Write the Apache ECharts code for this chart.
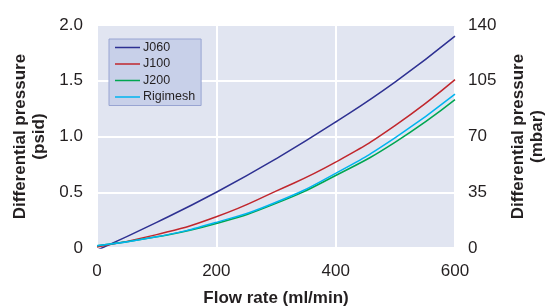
<!DOCTYPE html>
<html>
<head>
<meta charset="utf-8">
<script src="https://cdn.jsdelivr.net/npm/echarts@6/dist/echarts.min.js"></script>
<style>
html,body{margin:0;padding:0;background:#fff;}
#chart{width:548px;height:307px;}
</style>
</head>
<body>
<div id="chart"></div>
<script>
/*流量数据*/
var flowRates = [0, 100, 200, 300, 400, 500, 600];
var j060 = [-0.02, 0.23, 0.50, 0.80, 1.13, 1.49, 1.90];
var j100 = [0.01, 0.12, 0.28, 0.51, 0.77, 1.10, 1.51];
var j200 = [0.02, 0.10, 0.22, 0.40, 0.65, 0.95, 1.33];
var rigimesh = [0.02, 0.10, 0.23, 0.41, 0.67, 0.99, 1.38];
var psidTicks = [0, 0.5, 1.0, 1.5, 2.0];
var mbarTicks = [0, 35, 70, 105, 140];

function pairs(ys){
    var out = [];
    for(var i=0;i<flowRates.length;i++){
        out.push([flowRates[i], ys[i]]);
    }
    return out;
}

function line(name, ys, color){
    return {
        name: name,
        type: 'line',
        smooth: true,
        symbol: 'none',
        data: pairs(ys),
        lineStyle: {color: color, width: 1.5},
        itemStyle: {color: color}
    };
}

var font = 'Liberation Sans, Arial, sans-serif';
var tickText = {color: '#231f20', fontSize: 17, fontFamily: font};
var nameText = {color: '#231f20', fontSize: 17, fontWeight: 'bold', fontFamily: font, lineHeight: 19};

var myChart = echarts.init(document.getElementById('chart'));
myChart.setOption({
    animation: false,
    grid: {
        left: 97, right: 93, top: 25, bottom: 59,
        outerBoundsMode: 'none',
        containLabel: false,
        show: true,
        backgroundColor: '#e1e5f1',
        borderWidth: 0
    },
    legend: {
        left: 109, top: 39,
        orient: 'vertical',
        icon: 'rect',
        itemWidth: 25,
        itemHeight: 1.5,
        itemGap: 3.5,
        padding: [2, 6, 2, 6],
        backgroundColor: '#c8d0e9',
        borderColor: '#98a4d2',
        borderWidth: 1,
        textStyle: {color: '#231f20', fontSize: 12.5, fontFamily: font, padding: [0, 0, 0, -2], lineHeight: 13}
    },
    xAxis: {
        type: 'value',
        min: 0, max: 600, interval: 200,
        name: 'Flow rate (ml/min)',
        nameLocation: 'middle',
        nameGap: 41,
        nameTextStyle: nameText,
        axisLine: {show: false},
        axisTick: {show: false},
        axisLabel: Object.assign({margin: 15}, tickText),
        splitLine: {show: true, lineStyle: {color: '#ffffff', width: 2}}
    },
    yAxis: [{
        type: 'value',
        min: psidTicks[0], max: psidTicks[psidTicks.length-1], interval: 0.5,
        name: 'Differential pressure\n(psid)',
        nameLocation: 'middle',
        nameRotate: 90,
        nameGap: 45,
        nameTextStyle: nameText,
        axisLine: {show: false},
        axisTick: {show: false},
        axisLabel: Object.assign({
            margin: 14,
            formatter: function(v){ return v === 0 ? '0' : v.toFixed(1); }
        }, tickText),
        splitLine: {show: true, lineStyle: {color: '#ffffff', width: 2}}
    }, {
        type: 'value',
        position: 'right',
        min: mbarTicks[0], max: mbarTicks[mbarTicks.length-1], interval: 35,
        name: 'Differential pressure\n(mbar)',
        nameLocation: 'middle',
        nameRotate: 90,
        nameGap: 54,
        nameTextStyle: nameText,
        axisLine: {show: false},
        axisTick: {show: false},
        axisLabel: Object.assign({margin: 13}, tickText),
        splitLine: {show: false}
    }],
    series: [
        line('J060', j060, '#2e3192'),
        line('J100', j100, '#c1272d'),
        line('J200', j200, '#00a651'),
        line('Rigimesh', rigimesh, '#00b4ef')
    ]
});
</script>
</body>
</html>
